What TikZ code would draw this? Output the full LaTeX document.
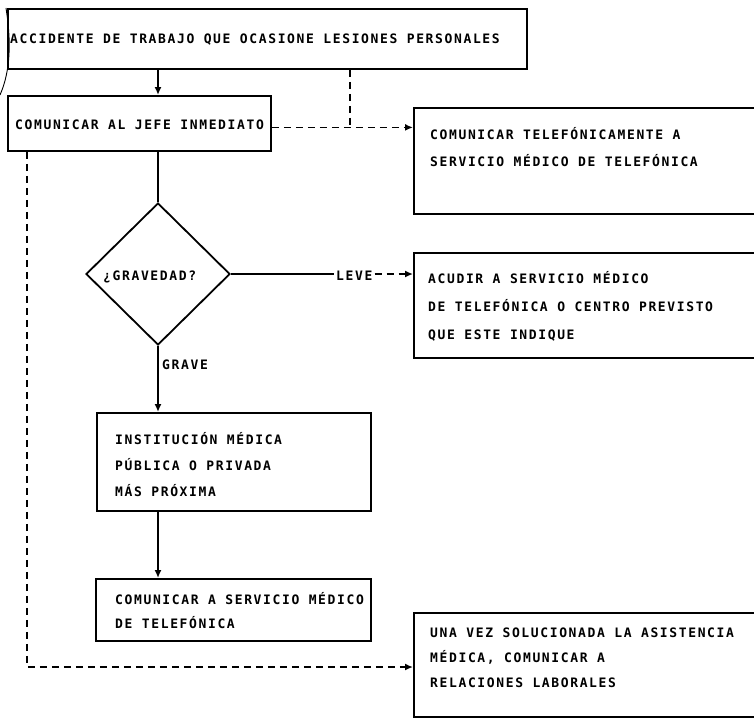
\documentclass[tikz,border=0pt]{standalone}
\usepackage{fontspec}
\newfontfamily\tw[LetterSpace=12.5,UprightFont=* Bold,BoldFont=* Bold]{DejaVu Sans Mono}
\usetikzlibrary{arrows.meta,shapes.geometric}
\begin{document}
\begin{tikzpicture}[x=1pt,y=-1pt,
  box/.style={draw,line width=1.8pt,rectangle,inner sep=0pt,anchor=north west},
  lbl/.style={font=\tw\fontsize{13}{26}\selectfont,inner sep=0pt,anchor=base west,align=left},
  sol/.style={line width=1.8pt},
  dsh/.style={line width=1.7pt,dash pattern=on 7pt off 5pt},
  arr/.style={-{Latex[length=8pt,width=7pt]}}]
\useasboundingbox (0,0) rectangle (754,717);
\clip (0,0) rectangle (754,717);
% boxes
\node[box,minimum width=519pt,minimum height=60pt] (top) at (7,8) {};
\node[box,minimum width=263pt,minimum height=55pt] (b2) at (7,95) {};
\node[box,minimum width=360pt,minimum height=106pt] (b3) at (413,107) {};
\node[box,minimum width=360pt,minimum height=105pt] (b4) at (413,252) {};
\node[box,minimum width=274pt,minimum height=98pt] (b5) at (96,412) {};
\node[box,minimum width=275pt,minimum height=62pt] (b6) at (95,578) {};
\node[box,minimum width=360pt,minimum height=104pt] (b7) at (413,612) {};
\node[draw,line width=1.8pt,diamond,inner sep=0pt,minimum width=144pt,minimum height=142pt] (d) at (158,274) {};
% texts (base anchor = baseline of the last line)
\node[lbl] (t1) at (10,43.5) {ACCIDENTE DE TRABAJO QUE OCASIONE LESIONES PERSONALES};
\node[lbl] (t2) at (15,129.5) {COMUNICAR AL JEFE INMEDIATO};
\node[lbl,font=\tw\fontsize{13}{27}\selectfont] (t3) at (430,166.5) {COMUNICAR TELEFÓNICAMENTE A\\SERVICIO MÉDICO DE TELEFÓNICA};
\node[lbl,font=\tw\fontsize{13}{28}\selectfont] (t4) at (428,339.5) {ACUDIR A SERVICIO MÉDICO\\DE TELEFÓNICA O CENTRO PREVISTO\\QUE ESTE INDIQUE};
\node[lbl] (t5) at (115,496.5) {INSTITUCIÓN MÉDICA\\PÚBLICA O PRIVADA\\MÁS PRÓXIMA};
\node[lbl,font=\tw\fontsize{13}{24}\selectfont] (t6) at (115,628.5) {COMUNICAR A SERVICIO MÉDICO\\DE TELEFÓNICA};
\node[lbl,font=\tw\fontsize{13}{25}\selectfont] (t7) at (430,687.5) {UNA VEZ SOLUCIONADA LA ASISTENCIA\\MÉDICA, COMUNICAR A\\RELACIONES LABORALES};
\node[lbl] (q) at (103,280.5) {¿GRAVEDAD?};
\node[lbl] (leve) at (336,280) {LEVE};
\node[lbl] (grave) at (162,369.5) {GRAVE};
% connectors
\draw[sol,arr] (d.north |- top.south) -- (d.north |- b2.north);
\draw[sol] (d.north |- b2.south) -- (d.north);
\coordinate (j) at ([yshift=-4pt]b2.east);
\coordinate (k) at (350,0);
\draw[dsh,arr] (j) -- (j -| b3.west);
\draw[dsh] (k |- top.south) -- (k |- j);
\draw[sol] (d.east) -- ([xshift=-2pt]d.east -| leve.west);
\draw[dsh,arr] ([xshift=2pt]leve.east |- d.east) -- (d.east -| b4.west);
\draw[sol,arr] (d.south) -- (d.south |- b5.north);
\draw[sol,arr] (d.south |- b5.south) -- (d.south |- b6.north);
\coordinate (c) at (27,667);
\draw[dsh,arr] (c |- b2.south) -- (c) -- (c -| b7.west);
% scan mark at left edge
\draw[line width=0.9pt] (6,8) .. controls (11,40) and (11,70) .. (0,95);
\end{tikzpicture}
\end{document}
